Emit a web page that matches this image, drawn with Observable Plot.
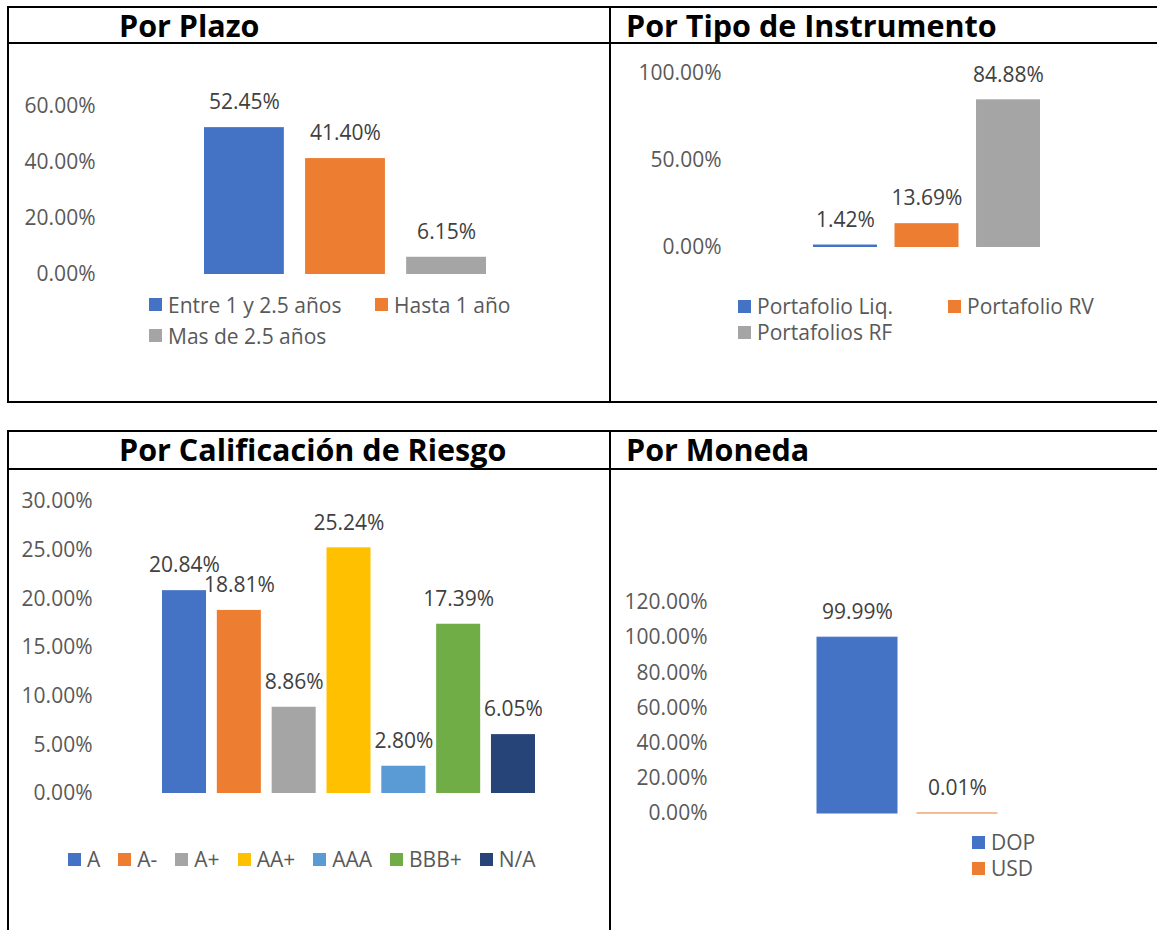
<!DOCTYPE html>
<html><head><meta charset="utf-8">
<script src="https://cdn.jsdelivr.net/npm/d3@7"></script>
<script src="https://cdn.jsdelivr.net/npm/@observablehq/plot@0.6"></script>
<style>
html,body{margin:0;padding:0;background:#fff;}
#page{position:relative;width:1157px;height:930px;overflow:hidden;font-family:"Open Sans",sans-serif;background:#fff;}
.line{position:absolute;background:#000;}
.title{position:absolute;font-weight:700;font-size:30.5px;color:#000;line-height:1;white-space:nowrap;}
.chart{position:absolute;}
.legend{position:absolute;display:grid;font-size:21px;color:#595959;}
.item{display:flex;align-items:center;white-space:nowrap;}
.sw{width:13px;height:13px;margin-right:6px;flex:none;}
</style></head><body><div id="page"></div>
<script>
// ---- data ----
const plazoCats = ["Entre 1 y 2.5 años", "Hasta 1 año", "Mas de 2.5 años"];
const plazoVals = [52.45, 41.40, 6.15];
const plazoTicks = [0, 20, 40, 60];

const tipoCats = ["Portafolio Liq.", "Portafolio RV", "Portafolios RF"];
const tipoVals = [1.42, 13.69, 84.88];
const tipoTicks = [0, 50, 100];

const califCats = ["A", "A-", "A+", "AA+", "AAA", "BBB+", "N/A"];
const califVals = [20.84, 18.81, 8.86, 25.24, 2.80, 17.39, 6.05];
const califTicks = [0, 5, 10, 15, 20, 25, 30];

const monedaCats = ["DOP", "USD"];
const monedaVals = [99.99, 0.01];
const monedaTicks = [0, 20, 40, 60, 80, 100, 120];

const titles = ["Por Plazo", "Por Tipo de Instrumento", "Por Calificación de Riesgo", "Por Moneda"];

// ---- styles ----
const palette3 = ["#4472C4", "#ED7D31", "#A5A5A5"];
const palette7 = ["#4472C4", "#ED7D31", "#A5A5A5", "#FFC000", "#5B9BD5", "#70AD47", "#264478"];
const fmt = v => v.toFixed(2) + "%";

const page = document.getElementById("page");
function el(tag, cls, css, parent = page) {
  const e = document.createElement(tag);
  if (cls) e.className = cls;
  Object.assign(e.style, css);
  parent.appendChild(e);
  return e;
}
// frame lines
function hline(x, y, w, t = 2) { el("div", "line", {left: x + "px", top: (y - t / 2) + "px", width: w + "px", height: t + "px"}); }
function vline(x, y, h, t = 2) { el("div", "line", {left: (x - t / 2) + "px", top: y + "px", width: t + "px", height: h + "px"}); }
hline(7, 7, 1150); hline(7, 43, 1150); hline(7, 402, 1150);
vline(8, 6, 397); vline(610, 6, 397);
hline(7, 431, 1150); hline(7, 469, 1150);
vline(8, 430, 500); vline(610, 430, 500);

// titles
const titlePos = [[119, 10], [626, 10], [119, 434], [626, 434]];
titles.forEach((t, i) => {
  const d = el("div", "title", {left: titlePos[i][0] + "px", top: titlePos[i][1] + "px"});
  d.textContent = t;
});

function chart(cats, vals, colors, ticks, L) {
  const data = cats.map((c, i) => ({cat: c, val: vals[i]}));
  const svg = Plot.plot({
    width: L.w, height: L.h,
    marginLeft: L.axisX, marginTop: 0, marginRight: 0, marginBottom: 0,
    style: {fontFamily: '"Open Sans", sans-serif', fontSize: "21px", background: "transparent", overflow: "visible"},
    x: {domain: cats, range: L.xRange, paddingInner: L.pi, paddingOuter: 0, round: false, axis: null},
    y: {domain: L.yDomain, range: L.yRange, label: null},
    color: {domain: cats, range: colors},
    marks: [
      Plot.barY(data, {x: "cat", y: "val", fill: "cat", stroke: L.stroke ? "cat" : undefined, strokeWidth: 1}),
      Plot.text(data, {x: "cat", y: "val", text: d => fmt(d.val), dy: -25, fill: "#404040"}),
      Plot.axisY({ticks, tickFormat: fmt, tickSize: 0, tickPadding: 5, color: "#595959", label: null})
    ]
  });
  svg.classList.add("chart");
  svg.style.position = "absolute";
  svg.style.left = L.left + "px";
  svg.style.top = L.top + "px";
  page.appendChild(svg);
}

function legend(cats, colors, L) {
  const g = el("div", "legend", {left: L.left + "px", top: L.top + "px",
    gridTemplateColumns: L.cols, gridAutoRows: L.row + "px", columnGap: (L.gap || 0) + "px"});
  cats.forEach((c, i) => {
    const it = el("div", "item", {}, g);
    el("div", "sw", {background: colors[i]}, it);
    const s = el("span", "", {}, it);
    s.textContent = c;
  });
}

chart(plazoCats, plazoVals, palette3, plazoTicks,
  {left: 0, top: 44, w: 610, h: 356, axisX: 100, xRange: [204, 486], pi: 0.21, yDomain: [0, 60], yRange: [230, 62]});
legend(plazoCats, palette3, {left: 149, top: 289, cols: "226px auto", row: 31});

chart(tipoCats, tipoVals, palette3, tipoTicks,
  {left: 610, top: 44, w: 547, h: 356, axisX: 116, xRange: [203, 430], pi: 0.215, yDomain: [0, 100], yRange: [203, 29]});
legend(tipoCats, palette3, {left: 738, top: 293, cols: "210px auto", row: 26});

chart(califCats, califVals, palette7, califTicks,
  {left: 0, top: 470, w: 610, h: 460, axisX: 97, xRange: [162, 535], pi: 0.197, yDomain: [0, 30], yRange: [323, 31]});
legend(califCats, palette7, {left: 68, top: 846, cols: "repeat(7, auto)", row: 26, gap: 18});

chart(monedaCats, monedaVals, palette3.slice(0, 2), monedaTicks,
  {left: 610, top: 470, w: 547, h: 460, axisX: 102, xRange: [207, 387], pi: 0.2, yDomain: [0, 120], yRange: [343, 132], stroke: true});
legend(monedaCats, palette3.slice(0, 2), {left: 972, top: 829, cols: "auto", row: 26});
</script></body></html>
